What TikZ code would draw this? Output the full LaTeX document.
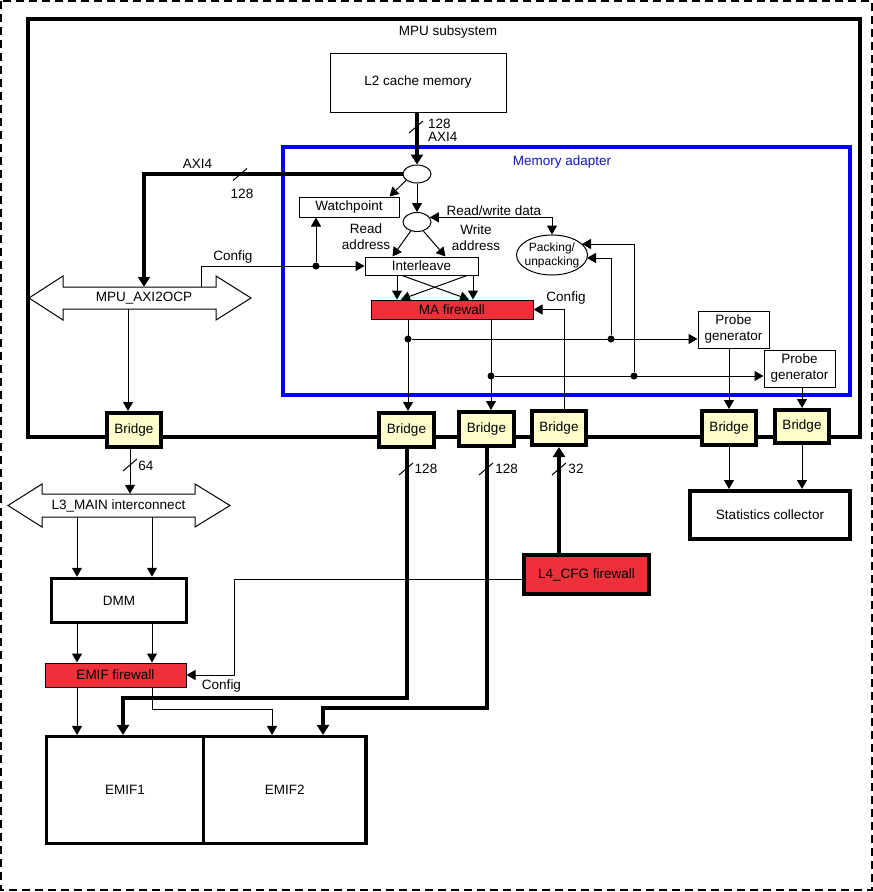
\documentclass[tikz,border=0pt]{standalone}
\usepackage{fontspec}
\setmainfont{Liberation Sans}
\usetikzlibrary{arrows.meta,shapes.geometric,calc}
\definecolor{fwred}{RGB}{238,48,58}
\definecolor{bridgey}{RGB}{255,255,204}
\definecolor{mablue}{RGB}{0,0,255}
\definecolor{matext}{RGB}{20,20,200}
\tikzset{
  every node/.style={font=\fontsize{13.5}{16}\selectfont, inner sep=0pt},
  box/.style={draw, line width=1pt, fill=white, align=center},
  tbox/.style={draw, line width=3.5pt, fill=white, align=center},
  fw/.style={draw, line width=1pt, fill=fwred, align=center},
  bridge/.style={draw, line width=4pt, fill=bridgey, minimum width=54pt, minimum height=34pt},
  oval/.style={ellipse, draw, line width=1pt, fill=white},
  arr/.style={line width=1pt, -{Triangle[length=9pt,width=10pt]}},
  darr/.style={line width=1pt, {Triangle[length=9pt,width=10pt]}-{Triangle[length=9pt,width=10pt]}},
  tarr/.style={line width=4pt, -{Triangle[length=10pt,width=12pt]}},
  tn/.style={line width=1pt},
  dotn/.style={circle, fill, minimum size=7pt, inner sep=0pt},
  slash/.style={line width=1pt},
  bus/.style={draw, line width=1pt, fill=white}
}
\begin{document}
\begin{tikzpicture}[x=1pt,y=-1pt]
\useasboundingbox (0,0) rectangle (873,892);
% outer dashed frame
\draw[line width=1.5pt, dash pattern=on 8pt off 5pt] (1,1) rectangle (872,890);
% MPU subsystem frame
\draw[line width=4.5pt] (28,19) rectangle (860,437);
\node (mpu) at (448,32) {MPU subsystem};
% memory adapter frame
\draw[line width=4pt, mablue] (282.5,147) rectangle (849.5,394.5);
\node[text=matext] (malbl) at (562,162) {Memory adapter};

% nodes inside
\node[box, minimum width=176pt, minimum height=59pt] (l2) at (418,82.5) {L2 cache memory};
\node[oval, minimum width=28pt, minimum height=18pt] (e1) at (417,174) {};
\node[oval, minimum width=28pt, minimum height=19pt] (e2) at (417,222) {};
\node[box, minimum width=100pt, minimum height=20pt] (wp) at (349,207) {Watchpoint};
\node[box, minimum width=113pt, minimum height=18pt] (il) at (421.5,266) {Interleave};
\node[fw, minimum width=162pt, minimum height=19pt] (ma) at (452,309.5) {MA firewall};
\node[oval, minimum width=71pt, minimum height=40pt] (pack) at (552,255) {};
\node[font=\fontsize{12}{14}\selectfont, align=center] (packt) at (pack.center) {Packing/\\unpacking};
\node[box, minimum width=71pt, minimum height=37pt] (pr1) at (733.5,329.5) {Probe\\generator};
\node[box, minimum width=71pt, minimum height=37pt] (pr2) at (799.5,368.5) {Probe\\generator};

% MPU_AXI2OCP bus
\draw[bus] (29,298) -- (63,276) -- (63,287) -- (216,287) -- (216,276) -- (251,298)
  -- (216,320) -- (216,309) -- (63,309) -- (63,320) -- cycle;
\node[minimum width=153pt, minimum height=22pt] (axi) at (144,298) {MPU\_AXI2OCP};

% bridges
\node[bridge] (br0) at (134,430) {Bridge};
\node[bridge, minimum width=55pt] (br1) at (406.5,430) {Bridge};
\node[bridge, minimum width=55pt] (br2) at (486.5,429) {Bridge};
\node[bridge] (br3) at (559,428) {Bridge};
\node[bridge] (br4) at (729,428) {Bridge};
\node[bridge, minimum height=33pt] (br5) at (802,426.5) {Bridge};

% L3 bus
\draw[bus] (8,505.5) -- (42,484) -- (42,494) -- (195,494) -- (195,484) -- (230,505.5)
  -- (195,527) -- (195,517) -- (42,517) -- (42,527) -- cycle;
\node[minimum width=153pt, minimum height=23pt] (l3) at (118.5,505.5) {L3\_MAIN interconnect};

% lower blocks
\node[tbox, minimum width=135pt, minimum height=44pt] (dmm) at (119,600.5) {DMM};
\node[fw, minimum width=141pt, minimum height=24pt] (emfw) at (115.5,675) {EMIF firewall};
\node[fw, line width=4pt, minimum width=125pt, minimum height=39pt] (l4) at (586.5,574.5) {L4\_CFG firewall};
\node[tbox, line width=4pt, minimum width=160pt, minimum height=48pt] (stats) at (770,515) {Statistics collector};
\node[tbox, minimum width=157pt, minimum height=107pt] (emif1) at (125,790.2) {EMIF1};
\node[tbox, minimum width=162.5pt, minimum height=107pt] (emif2) at (284.75,790.2) {EMIF2};

% helper columns / corners
\coordinate (c0) at (128,0);
\coordinate (c130) at (130,0);
\coordinate (cA) at (77,0);
\coordinate (cB) at (152,0);
\coordinate (cC) at (272,709);
\coordinate (cD) at (234,579);
\coordinate (cE) at (123,698);
\coordinate (cF) at (323,708);

% dots
\node[dotn] (d0) at (316,266) {};
\node[dotn] (d1) at (408,339) {};
\node[dotn] (d2) at (491,376) {};
\node[dotn] (d3) at (611,339) {};
\node[dotn] (d4) at (634,376) {};

% AXI4 connections
\draw[tarr] (l2.south -| e1) -- (e1.north);
\draw[tarr] (e1.west) -| (axi.north);
\draw[arr] (e1.210) -- ($(wp.north east)+(-10,0)$);
\draw[arr] (e1.south) -- (e2.north);
\draw[darr] (e2.20) -| (pack.north);
\draw[arr] (e2.235) -- ($(il.north)+(-29,0)$);
\draw[arr] (e2.305) -- ($(il.north)+(24,0)$);

% config from AXI2OCP
\draw[arr] ($(axi.north)+(57,0)$) |- (il.west);
\draw[arr] (d0) -- (wp.south -| d0);

% interleave to MA firewall
\draw[arr] ($(il.south)+(-24.5,0)$) -- ($(ma.north)+(-55,0)$);
\draw[arr] ($(il.south)+(51.5,0)$) -- ($(ma.north)+(21,0)$);
\draw[arr] ($(il.south)+(-19.5,0)$) -- ($(ma.north)+(17,0)$);
\draw[arr] ($(il.south)+(45.5,0)$) -- ($(ma.north)+(-51,0)$);

% config to MA firewall
\draw[arr] ($(br3.north)+(5,0)$) |- (ma.east);

% MA firewall outputs
\draw[arr] (ma.south -| d1) -- (br1.north -| d1);
\draw[arr] (ma.south -| d2) -- (br2.north -| d2);
\draw[arr] (d1) -- (pr1.west |- d1);
\draw[arr] (d2) -- (pr2.west |- d2);
\draw[arr] (d3) |- ($(pack.center)+(35,3)$);
\draw[arr] (d4) |- ($(pack.center)+(30,-11)$);

% probes to bridges
\draw[arr] (pr1.south -| br4) -- (br4.north);
\draw[arr] (pr2.south -| br5) -- (br5.north);

% AXI2OCP to bridge0, bridge0 to L3
\draw[arr] (axi.south -| c0) -- (br0.north -| c0);
\draw[arr] (br0.south -| c130) -- (l3.north -| c130);

% L3 to DMM to EMIF firewall to EMIFs
\draw[arr] (l3.south -| cA) -- (dmm.north -| cA);
\draw[arr] (l3.south -| cB) -- (dmm.north -| cB);
\draw[arr] (dmm.south -| cA) -- (emfw.north -| cA);
\draw[arr] (dmm.south -| cB) -- (emfw.north -| cB);
\draw[arr] (emfw.south -| cA) -- (emif1.north -| cA);
\draw[arr] (emfw.south -| cB) |- (cC) -- (emif2.north -| cC);

% L4 config to EMIF firewall
\draw[arr] (l4.west |- cD) -- (cD) |- (emfw.east);

% thick bridge links
\draw[tarr] (br1.south) |- (cE) -- (emif1.north -| cE);
\draw[tarr] (br2.south) |- (cF) -- (emif2.north -| cF);
\draw[tarr] (l4.north -| br3) -- (br3.south);

% bridges to statistics collector
\draw[arr] (br4.south) -- (stats.north -| br4);
\draw[arr] (br5.south) -- (stats.north -| br5);

% bus width slashes
\draw[slash] (409,133) -- (423,121);
\draw[slash] (233,180.5) -- (247,168.5);
\draw[slash] (123,471) -- (137,459);
\draw[slash] (399,475) -- (413,463);
\draw[slash] (479,475) -- (493,463);
\draw[slash] (552,475) -- (566,463);

% labels
\node[anchor=west] (t128a) at (428,124) {128};
\node[anchor=west] (taxi4a) at (428,137) {AXI4};
\node (taxi4b) at (197.5,164) {AXI4};
\node (t128b) at (242,194) {128};
\node (trw) at (494,211) {Read/write data};
\node[align=center] (tra) at (366,237) {Read\\address};
\node[align=center] (twa) at (476,237.5) {Write\\address};
\node (tcfg1) at (233,257) {Config};
\node (tcfg2) at (566,298) {Config};
\node (tcfg3) at (221.5,685.7) {Config};
\node (t64) at (146,466) {64};
\node (t128c) at (426,469) {128};
\node (t128d) at (506.7,469) {128};
\node (t32) at (576,469) {32};
\end{tikzpicture}
\end{document}
